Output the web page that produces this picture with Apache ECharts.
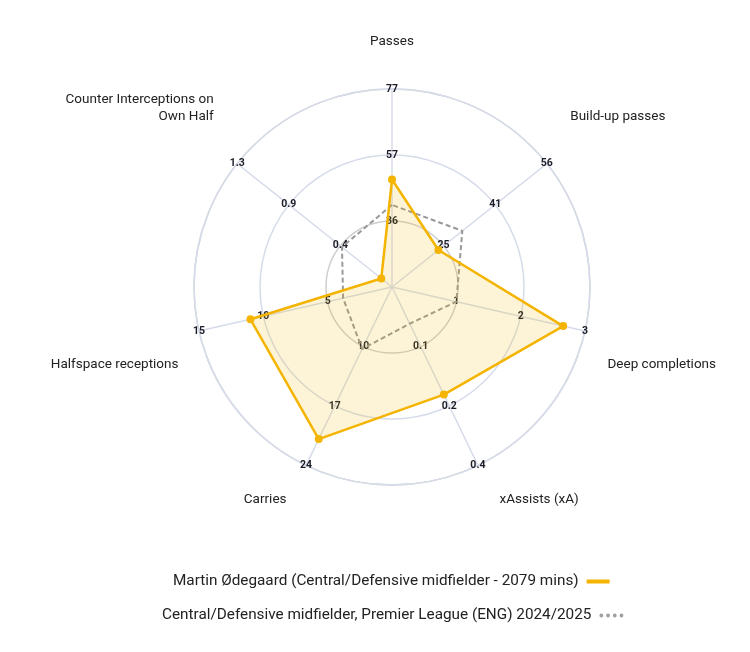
<!DOCTYPE html>
<html>
<head>
<meta charset="utf-8">
<script src="https://cdn.jsdelivr.net/npm/echarts@6/dist/echarts.min.js"></script>
<style>
  html, body { margin: 0; padding: 0; background: #fff; }
  #radar { width: 750px; height: 652px; }
</style>
</head>
<body>
<div id="radar"></div>
<script>
// axes, counter-clockwise from the top (echarts draws radar indicators that way)
var indicatorNames = ['Passes', 'Counter Interceptions on\nOwn Half', 'Halfspace receptions', 'Carries', 'xAssists (xA)', 'Deep completions', 'Build-up passes']
var axisMin = [16, 0, 0, 3, 0.02, 0, 10]
var axisMax = [77, 1.3, 15, 24, 0.36, 3, 56]
// ring labels (inner, middle, outer)
var tickLabels = [
  ['36', '57', '77'],
  ['0.4', '0.9', '1.3'],
  ['5', '10', '15'],
  ['10', '17', '24'],
  ['0.1', '0.2', '0.4'],
  ['1', '2', '3'],
  ['25', '41', '56']
]
var playerName = 'Martin Ødegaard (Central/Defensive midfielder - 2079 mins)'
var leagueName = 'Central/Defensive midfielder, Premier League (ENG) 2024/2025'
var playerValues = [49.1, 0.09, 11.0, 20.9, 0.225, 2.66, 23.8]
var leagueValues = [41.3, 0.42, 3.8, 10.3, 0.09, 1.0, 30.9]

var font = 'Roboto, "Noto Sans", sans-serif'

// nudges for the axis names so they sit where the original puts them
var nameGaps = [30, 30, 21, 29, 29, 23, 30]
var nameVAlign = ['bottom', 'bottom', 'top', 'top', 'top', 'top', 'bottom']
var namePadding = [
  [0, 0, 9, 0],
  [0, 0, 20, 0],
  [20, 0, 0, 0],
  [0, 7, 0, 0],
  [0, 0, 0, 9],
  [20, 0, 0, 0],
  [0, 0, 20, 0]
]

function makeIndicator (i) {
  return {
    name: indicatorNames[i],
    min: axisMin[i],
    max: axisMax[i],
    nameGap: nameGaps[i],
    nameTextStyle: {padding: namePadding[i], lineHeight: 17, verticalAlign: nameVAlign[i]},
    axisLabel: {
      formatter: function (value) {
        var k = Math.round((value - axisMin[i]) / (axisMax[i] - axisMin[i]) * 3)
        return k > 0 ? tickLabels[i][k - 1] : ''
      }
    }
  }
}

var indicators = []
for (var i = 0; i < indicatorNames.length; i++) {
  indicators.push(makeIndicator(i))
}

var legendText = {color: '#222', fontSize: 15.3, fontFamily: font, padding: [0, 3, 0, 0]}

var myChart = echarts.init(document.getElementById('radar'), null, {renderer: 'canvas'})
myChart.setOption({
  animation: false,
  legend: [
    {
      data: [{name: playerName, icon: 'rect'}],
      top: 574,
      left: 173,
      padding: 0,
      align: 'right',
      itemWidth: 23,
      itemHeight: 4,
      textStyle: legendText
    },
    {
      data: [{name: leagueName, icon: 'path://M2,0a2,2 0 1,0 0.001,0zM9,0a2,2 0 1,0 0.001,0zM16,0a2,2 0 1,0 0.001,0zM23,0a2,2 0 1,0 0.001,0z'}],
      top: 608,
      left: 162,
      padding: 0,
      align: 'right',
      itemWidth: 24,
      itemHeight: 4,
      textStyle: legendText
    }
  ],
  radar: {
    center: [392, 287],
    radius: 198,
    startAngle: 90,
    splitNumber: 3,
    shape: 'circle',
    indicator: indicators,
    nameGap: 30,
    axisName: {color: '#222', fontSize: 13.5, fontFamily: font},
    axisLine: {lineStyle: {color: '#d6dce9', width: 1.5}},
    splitLine: {lineStyle: {color: ['#cfcfcf', '#cfcfcf', '#d6dce9', '#d6dce9'], width: 1.5}},
    splitArea: {show: false},
    axisTick: {show: false},
    axisLabel: {
      show: true,
      margin: 0,
      align: 'center',
      verticalAlign: 'middle',
      color: '#1c1c28',
      fontSize: 10.5,
      fontWeight: 'bold',
      fontFamily: font
    }
  },
  series: [
    {
      name: leagueName,
      type: 'radar',
      symbol: 'none',
      color: '#a0a0a0',
      lineStyle: {color: '#999', width: 2, type: [5, 3]},
      data: [{name: leagueName, value: leagueValues}]
    },
    {
      name: playerName,
      type: 'radar',
      symbol: 'circle',
      symbolSize: 8,
      color: '#f4b400',
      itemStyle: {color: '#f4b400'},
      lineStyle: {color: '#f4b400', width: 2.5},
      areaStyle: {color: 'rgba(245, 184, 0, 0.22)'},
      data: [{name: playerName, value: playerValues}]
    }
  ]
})
</script>
</body>
</html>
